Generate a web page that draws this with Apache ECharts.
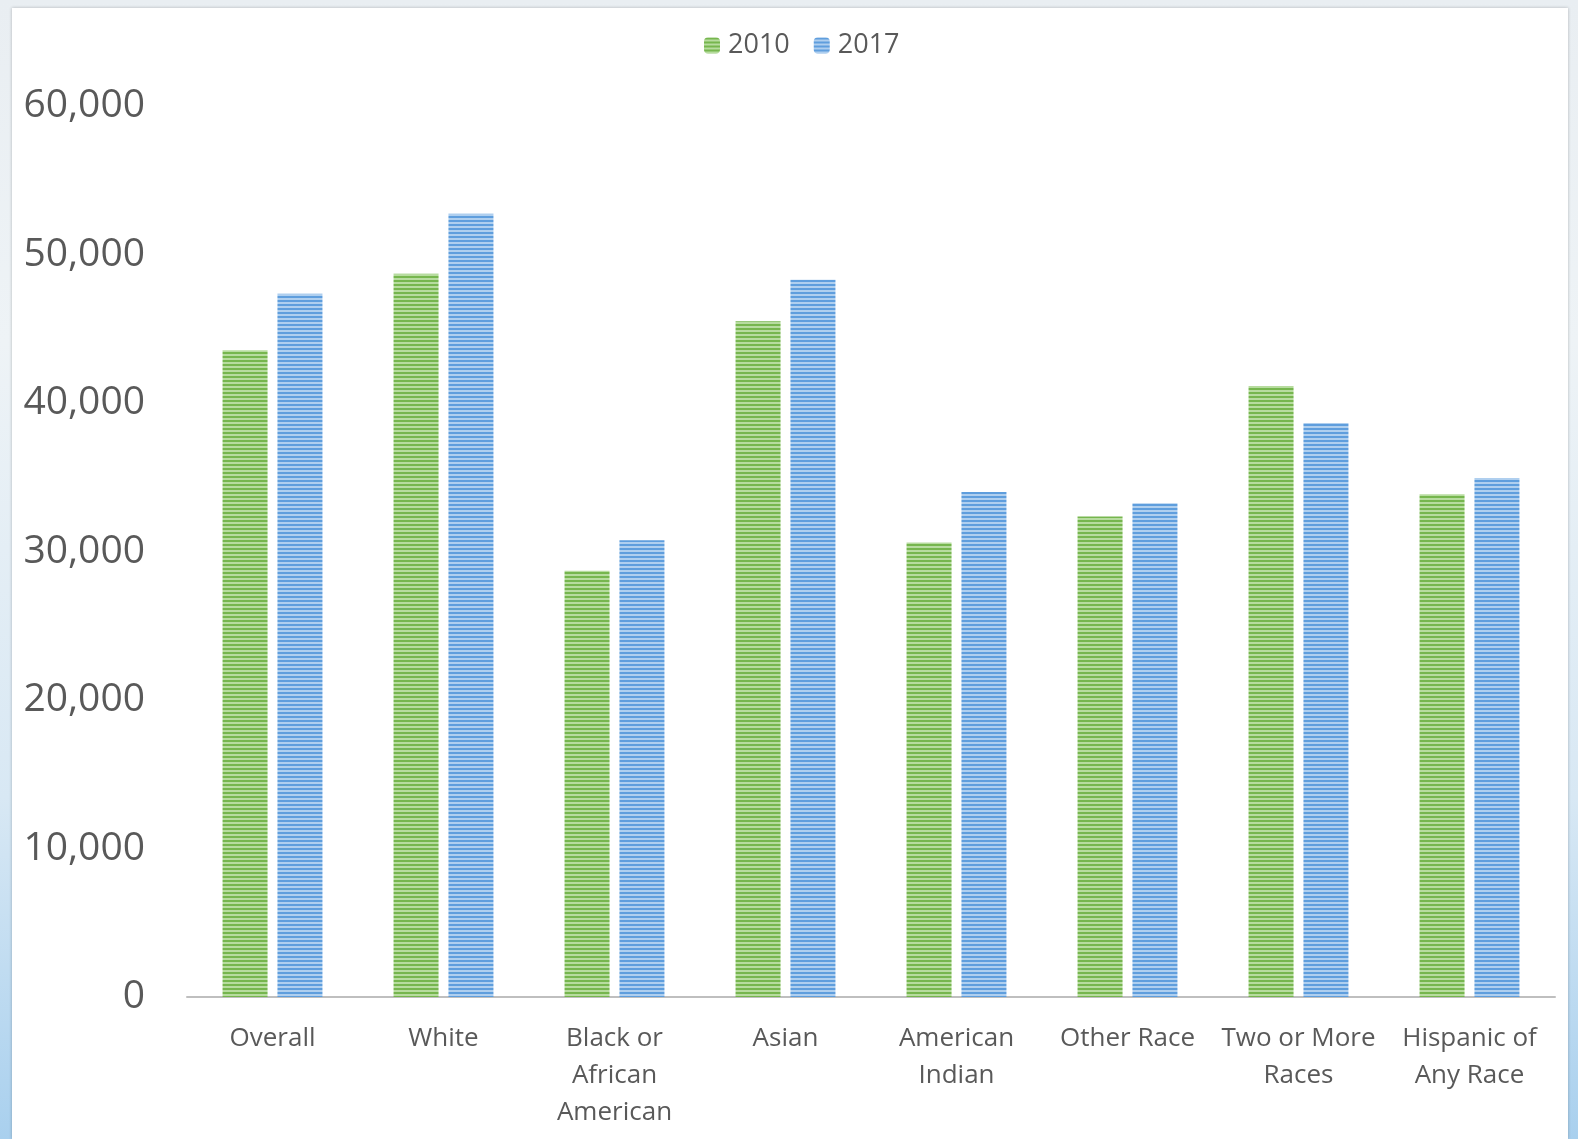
<!DOCTYPE html>
<html>
<head>
<meta charset="utf-8">
<script src="https://cdn.jsdelivr.net/npm/echarts@6/dist/echarts.min.js"></script>
<style>
html,body{margin:0;padding:0;width:1578px;height:1139px;overflow:hidden;
  background:linear-gradient(180deg,#e9eef2 0%,#eef3f6 30%,#d8e8f4 70%,#a9d0ee 100%);}
#panel{position:absolute;left:12px;top:8px;width:1556px;height:1131px;background:#fff;
  box-shadow:0 0 3px rgba(0,0,0,0.25);}
#chart{position:absolute;left:0;top:0;width:1578px;height:1139px;}
</style>
</head>
<body>
<div id="panel"></div>
<div id="chart"></div>
<script>
const categories = ['Overall', 'White', 'Black or\nAfrican\nAmerican', 'Asian', 'American\nIndian', 'Other Race', 'Two or More\nRaces', 'Hispanic of\nAny Race'];
const seriesNames = ['2010', '2017'];
const values2010 = [43550, 48700, 28700, 45500, 30600, 32350, 41150, 33850];
const values2017 = [47350, 52750, 30750, 48300, 34000, 33250, 38650, 34950];
const yTicks = [0, 10000, 20000, 30000, 40000, 50000, 60000];

function stripe(dark, light) {
  const c = document.createElement('canvas');
  c.width = 4; c.height = 4;
  const ctx = c.getContext('2d');
  ctx.fillStyle = light; ctx.fillRect(0, 0, 4, 4);
  ctx.fillStyle = dark; ctx.fillRect(0, 0, 4, 2);
  return { image: c, repeat: 'repeat' };
}
const greenPat = stripe('#76b64e', '#b7dc9f');
const bluePat = stripe('#5f9edd', '#afcfef');

const chart = echarts.init(document.getElementById('chart'));
chart.setOption({
  backgroundColor: 'transparent',
  animation: false,
  textStyle: { fontFamily: 'Open Sans, sans-serif' },
  legend: {
    top: 27, left: 699, itemWidth: 16, itemHeight: 16, itemGap: 24,
    textStyle: { fontSize: 27, color: '#595959', fontFamily: 'Open Sans, sans-serif', padding: [0, 0, 0, 3] },
    data: seriesNames
  },
  grid: { left: 187, right: 23, top: 106, bottom: 142, containLabel: false },
  xAxis: {
    type: 'category', data: categories,
    axisTick: { show: false },
    axisLine: { lineStyle: { color: '#bfbfbf', width: 2 } },
    axisLabel: { color: '#595959', fontSize: 26, lineHeight: 37, margin: 23, interval: 0, fontFamily: 'Open Sans, sans-serif' }
  },
  yAxis: {
    type: 'value', min: 0, max: 60000, interval: 10000,
    splitLine: { show: false },
    axisLine: { show: false }, axisTick: { show: false },
    axisLabel: {
      color: '#595959', fontSize: 39, margin: 42, fontFamily: 'Open Sans, sans-serif',
      formatter: v => yTicks.includes(v) ? v.toLocaleString('en-US') : ''
    }
  },
  series: [
    { name: seriesNames[0], type: 'bar', data: values2010, barWidth: 45, barGap: '22%',
      itemStyle: { color: greenPat } },
    { name: seriesNames[1], type: 'bar', data: values2017, barWidth: 45, barGap: '22%',
      itemStyle: { color: bluePat } }
  ]
});
</script>
</body>
</html>
